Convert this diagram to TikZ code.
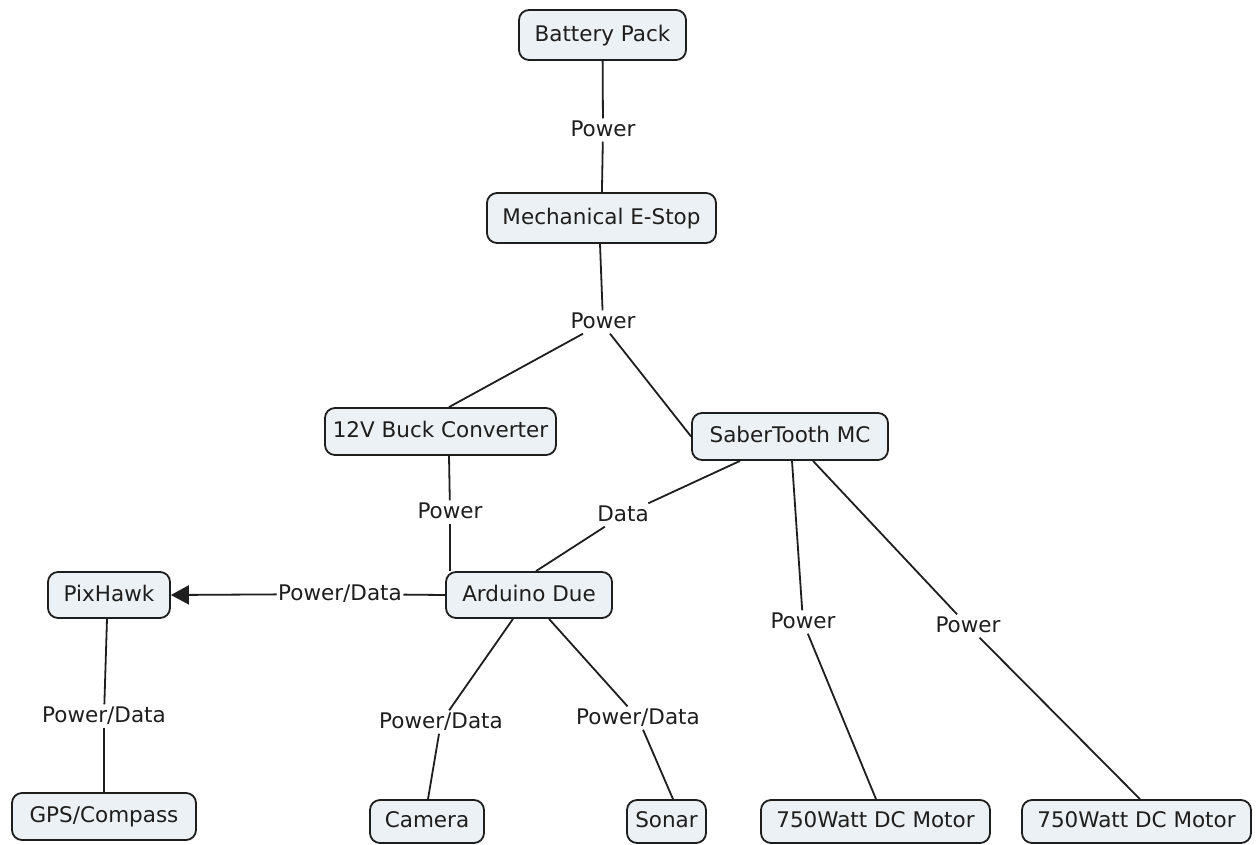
\documentclass[tikz,border=0pt]{standalone}
\usepackage{fontspec}
\setmainfont{DejaVu Sans}
\usetikzlibrary{arrows.meta}
\definecolor{boxfill}{HTML}{EBF1F4}
\definecolor{ink}{HTML}{1E1E1E}
\begin{document}
\begin{tikzpicture}[x=1pt,y=-1pt,
  concept/.style={draw=ink, line width=1.8pt, fill=boxfill, rounded corners=10pt,
    inner sep=0pt, font=\fontsize{21.5}{26}\selectfont, text=ink,
    text height=16pt, text depth=4pt},
  lbl/.style={inner sep=1.5pt, font=\fontsize{21.5}{26}\selectfont, text=ink,
    text height=16pt, text depth=4pt},
  link/.style={line width=1.8pt, draw=ink}]
\useasboundingbox (0,0) rectangle (1256,844);
\fill[white] (0,0) rectangle (1256,844);

% concepts
\node[concept, minimum width=167pt, minimum height=50pt] (bat)   at (602.5,35)   {Battery Pack};
\node[concept, minimum width=229pt, minimum height=50pt] (estop) at (601.5,218)  {Mechanical E-Stop};
\node[concept, minimum width=231pt, minimum height=47pt] (buck)  at (440.5,431.5){12V Buck Converter};
\node[concept, minimum width=196pt, minimum height=47pt] (saber) at (790,436.5)  {SaberTooth MC};
\node[concept, minimum width=122pt, minimum height=46pt] (pix)   at (109,595)    {PixHawk};
\node[concept, minimum width=166pt, minimum height=46pt] (ard)   at (529,595)    {Arduino Due};
\node[concept, minimum width=184pt, minimum height=47pt] (gps)   at (104,816.5)  {GPS/Compass};
\node[concept, minimum width=114pt, minimum height=43pt] (cam)   at (427,821.5)  {Camera};
\node[concept, minimum width=79pt,  minimum height=43pt] (sonar) at (666.5,821.5){Sonar};
\node[concept, minimum width=229pt, minimum height=43pt] (m1)    at (875.5,821.5){750Watt DC Motor};
\node[concept, minimum width=229pt, minimum height=43pt] (m2)    at (1136.5,821.5){750Watt DC Motor};

% link labels
\node[lbl] (l1)  at (603,130) {Power};
\node[lbl] (l2)  at (603,322) {Power};
\node[lbl] (l3)  at (450,512) {Power};
\node[lbl] (l4)  at (623,515) {Data};
\node[lbl] (l5)  at (803,622) {Power};
\node[lbl] (l6)  at (968,626) {Power};
\node[lbl] (l7)  at (340,594) {Power/Data};
\node[lbl] (l8)  at (104,716) {Power/Data};
\node[lbl] (l9)  at (441,722) {Power/Data};
\node[lbl] (l10) at (638,718) {Power/Data};

% connectors
\draw[link] (bat) -- (l1);
\draw[link] (l1) -- (estop);
\draw[link] ([xshift=-1.5pt]estop.south) -- (l2);
\draw[link] ([xshift=-20pt]l2.south) -- ([xshift=8.5pt]buck.north);
\draw[link] ([xshift=7pt]l2.south) -- (saber.west);
\draw[link] ([xshift=8.5pt]buck.south) -- (l3);
\draw[link] (l3) -- ([xshift=-79pt]ard.north);
\draw[link] ([xshift=-50pt]saber.south) -- (l4);
\draw[link] (l4) -- ([xshift=7pt]ard.north);
\draw[link] ([xshift=2pt]saber.south) -- (l5);
\draw[link] (l5) -- ([xshift=0.5pt]m1.north);
\draw[link] ([xshift=23pt]saber.south) -- (l6);
\draw[link] (l6) -- ([xshift=3.5pt]m2.north);
\draw[link] (ard.west) -- (l7);
\draw[link, -{Triangle[length=18pt,width=19pt]}] (l7) -- (pix.east);
\draw[link] ([xshift=-2pt]pix.south) -- (l8);
\draw[link] (l8) -- (gps.north);
\draw[link] ([xshift=-16pt]ard.south) -- (l9);
\draw[link] (l9) -- ([xshift=1pt]cam.north);
\draw[link] ([xshift=20pt]ard.south) -- (l10);
\draw[link] (l10) -- ([xshift=6.5pt]sonar.north);
\end{tikzpicture}
\end{document}
